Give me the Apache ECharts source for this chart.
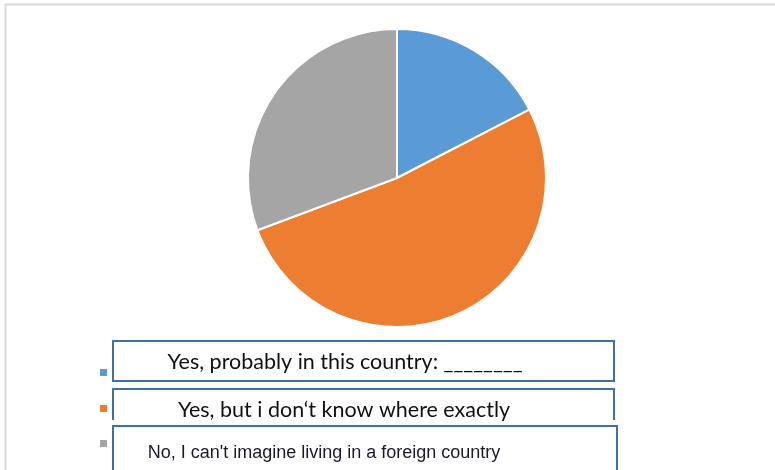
<!DOCTYPE html>
<html>
<head>
<meta charset="utf-8">
<script src="https://cdn.jsdelivr.net/npm/echarts@6/dist/echarts.min.js"></script>
<style>html,body{margin:0;padding:0;background:#fff;}#c{width:775px;height:470px;}</style>
</head>
<body>
<div id="c"></div>
<script>
const categories = [
  "Yes, probably in this country: ________",
  "Yes, but i don‘t know where exactly",
  "No, I can't imagine living in a foreign country"
];
const values = [17.4, 51.9, 30.7];
const colors = ["#5b9bd5", "#ed7d31", "#a5a5a5"];

const chart = echarts.init(document.getElementById('c'), null, {renderer: 'canvas'});
const legendTops = [369, 405, 440];
const boxStroke = '#41719c';

const option = {
  animation: false,
  backgroundColor: '#ffffff',
  color: colors,
  legend: categories.map((name, i) => ({
    data: [name],
    left: 100,
    top: legendTops[i],
    padding: 0,
    orient: 'vertical',
    icon: 'rect',
    itemWidth: 7,
    itemHeight: 7,
    itemStyle: {borderWidth: 0},
    selectedMode: false,
    formatter: () => '',
    textStyle: {fontSize: 1}
  })),
  series: [{
    type: 'pie',
    center: [397, 178],
    radius: 149,
    startAngle: 90,
    clockwise: true,
    label: {show: false},
    labelLine: {show: false},
    emphasis: {disabled: true},
    itemStyle: {borderColor: '#ffffff', borderWidth: 2},
    data: categories.map((name, i) => ({name: name, value: values[i]}))
  }],
  graphic: [
    {type: 'line', shape: {x1: 5, y1: 4.5, x2: 775, y2: 4.5}, style: {stroke: '#d9d9d9', lineWidth: 2}},
    {type: 'line', shape: {x1: 5.5, y1: 4, x2: 5.5, y2: 470}, style: {stroke: '#d9d9d9', lineWidth: 2}},
    {type: 'rect', shape: {x: 113, y: 341, width: 501, height: 40}, style: {fill: '#fff', stroke: boxStroke, lineWidth: 2}},
    {type: 'text', x: 345, y: 362, style: {text: categories[0], font: '21.5px Lato, "Open Sans", sans-serif', fill: '#111', textAlign: 'center', textVerticalAlign: 'middle'}},
    {type: 'polyline', shape: {points: [[113, 420], [113, 389], [614, 389], [614, 420]]}, style: {fill: null, stroke: boxStroke, lineWidth: 2}},
    {type: 'text', x: 344, y: 410, style: {text: categories[1], font: '21.5px Lato, "Open Sans", sans-serif', fill: '#111', textAlign: 'center', textVerticalAlign: 'middle'}},
    {type: 'rect', shape: {x: 113, y: 426, width: 504, height: 60}, style: {fill: '#fff', stroke: boxStroke, lineWidth: 2}},
    {type: 'text', x: 324, y: 453, style: {text: categories[2], font: '18px "Liberation Sans", Arial, sans-serif', fill: '#1a1a2a', textAlign: 'center', textVerticalAlign: 'middle'}}
  ]
};
chart.setOption(option);
</script>
</body>
</html>
